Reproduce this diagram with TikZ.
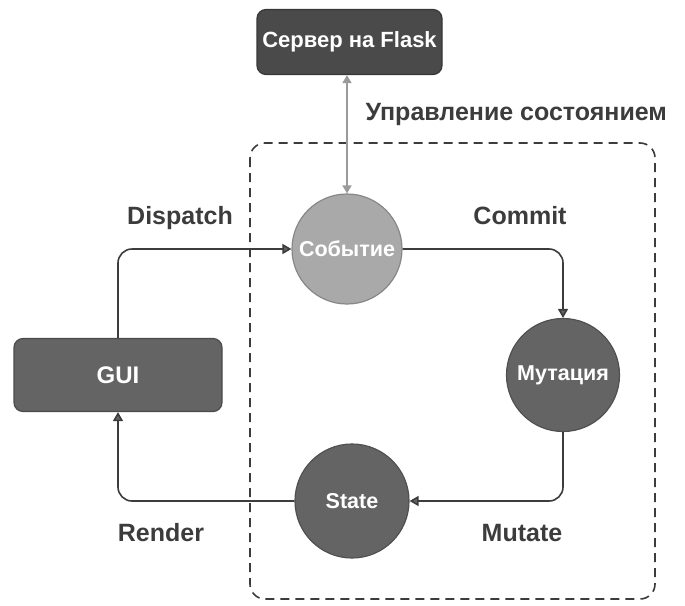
\documentclass[tikz,border=0pt]{standalone}
\usepackage{fontspec}
\setmainfont{Liberation Sans}
\usetikzlibrary{arrows.meta}
\definecolor{ink}{HTML}{3C3C3C}
\definecolor{darknode}{HTML}{4A4A4A}
\definecolor{midnode}{HTML}{646464}
\definecolor{lightnode}{HTML}{A9A9A9}
\definecolor{linkgray}{HTML}{9A9A9A}
\tikzset{
  box/.style={draw=#1!75!black, fill=#1, rounded corners=9pt, line width=1.2pt,
    text=white, font=\fontsize{22}{25}\selectfont\bfseries},
  bubble/.style={circle, draw=#1!80!black, fill=#1, line width=1.2pt, inner sep=0pt,
    text=white, font=\fontsize{21.5}{25}\selectfont\bfseries},
  flow/.style={draw=ink, line width=1.6pt, rounded corners=14pt,
    -{Triangle[width=10pt,length=9pt,fill=midnode]}},
  label/.style={text=ink, font=\fontsize{25}{29}\selectfont\bfseries},
  region/.style={draw=ink, line width=1.6pt, dash pattern=on 9pt off 6pt, rounded corners=15pt}
}
\begin{document}
\begin{tikzpicture}[x=1pt,y=-1pt]
  \useasboundingbox (0,0) rectangle (685,605);

  % store boundary
  \draw[region] (250,143) rectangle (655,599);

  % nodes
  \node[box=darknode, minimum width=185pt, minimum height=65pt] (server) at (349.5,42) {Сервер на Flask};
  \node[box=midnode, minimum width=208pt, minimum height=73pt,
    font=\fontsize{24}{28}\selectfont\bfseries] (gui) at (118,375) {GUI};
  \node[bubble=lightnode, minimum size=110pt] (event) at (347,249) {Событие};
  \node[bubble=midnode, minimum size=113pt] (mut) at (563,375) {Мутация};
  \node[bubble=midnode, minimum size=114pt] (state) at (352,501) {State};

  % server link
  \draw[draw=linkgray, line width=1.6pt,
    {Triangle[width=9pt,length=8pt,fill=linkgray]}-{Triangle[width=9pt,length=8pt,fill=linkgray]}]
    (event.north |- server.south) -- (event.north);

  % cycle
  \draw[flow] (gui.north) |- (event.west);
  \draw[flow] (event.east) -| (mut.north);
  \draw[flow] (mut.south) |- (state.east);
  \draw[flow] (state.west) -| (gui.south);

  % labels
  \node[label, anchor=west] (lmanage) at (362,114) {Управление состоянием};
  \node[label] (ldispatch) at (180,218) {Dispatch};
  \node[label] (lcommit) at (520,216) {Commit};
  \node[label] (lrender) at (161,533) {Render};
  \node[label] (lmutate) at (522,533) {Mutate};
\end{tikzpicture}
\end{document}
